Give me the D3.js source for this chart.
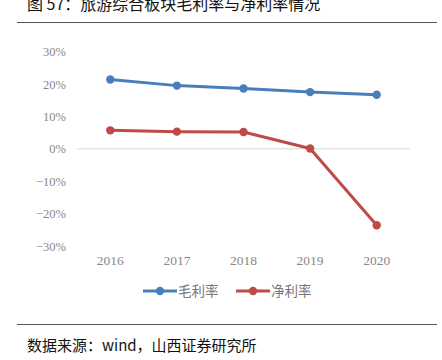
<!DOCTYPE html>
<html><head><meta charset="utf-8">
<script src="https://cdn.jsdelivr.net/npm/d3@7"></script>
<style>body{margin:0;background:#fff}svg{display:block}</style>
</head><body>
<script>
const years = ["2016","2017","2018","2019","2020"];
const grossMargin = [21.4, 19.5, 18.6, 17.5, 16.7];
const netMargin = [5.7, 5.3, 5.2, 0.1, -23.6];
const yTicks = [30, 20, 10, 0, -10, -20, -30];
const seriesNames = ["毛利率", "净利率"];
const colors = ["#4a7ebb", "#be4b48"];

const W = 442, H = 360;
const svg = d3.select("body").append("svg").attr("width", W).attr("height", H);

svg.append("text").attr("x", 27).attr("y", 10)
  .attr("font-family", "Noto Sans CJK SC").attr("font-size", 16).attr("fill", "#111")
  .text("图 57：旅游综合板块毛利率与净利率情况");
svg.append("line").attr("x1", 17).attr("x2", 437).attr("y1", 22.5).attr("y2", 22.5)
  .attr("stroke", "#555").attr("stroke-width", 1);

const x = d3.scaleBand().domain(years).range([77, 410]);
const y = d3.scaleLinear().domain([-30, 30]).range([246, 51.6]);

const axisFont = "Liberation Serif";
const yAxis = svg.append("g").attr("transform", "translate(66,0)")
  .call(d3.axisLeft(y).tickValues(yTicks).tickSize(0).tickPadding(0).tickFormat(d => (d < 0 ? "−" + Math.abs(d) : d) + "%"));
yAxis.select(".domain").remove();
yAxis.selectAll("text").attr("font-family", axisFont).attr("font-size", 12.5).attr("fill", "#888");

svg.append("line").attr("x1", 77).attr("x2", 410).attr("y1", y(0)).attr("y2", y(0))
  .attr("stroke", "#d9d9d9").attr("stroke-width", 1);

const xAxis = svg.append("g").attr("transform", "translate(0,255)")
  .call(d3.axisBottom(x).tickSize(0).tickPadding(0));
xAxis.select(".domain").remove();
xAxis.selectAll("text").attr("font-family", axisFont).attr("font-size", 13.5).attr("fill", "#888").attr("dy", "0.71em");

const series = [grossMargin, netMargin];
const line = d3.line().x((d, i) => x(years[i]) + x.bandwidth() / 2).y(d => y(d));
series.forEach((s, k) => {
  svg.append("path").datum(s).attr("d", line).attr("fill", "none")
    .attr("stroke", colors[k]).attr("stroke-width", 3).attr("stroke-linejoin", "round");
  svg.selectAll(".m" + k).data(s).enter().append("circle")
    .attr("cx", (d, i) => x(years[i]) + x.bandwidth() / 2).attr("cy", d => y(d)).attr("r", 4.2)
    .attr("fill", colors[k]);
});

const legendX = [143, 236];
seriesNames.forEach((n, k) => {
  const g = svg.append("g").attr("transform", `translate(${legendX[k]},291)`);
  g.append("line").attr("x1", 0).attr("x2", 34).attr("stroke", colors[k]).attr("stroke-width", 3);
  g.append("circle").attr("cx", 17).attr("r", 4.2).attr("fill", colors[k]);
  g.append("text").attr("x", 35).attr("y", 0).attr("dy", "0.35em")
    .attr("font-family", "Noto Sans CJK SC").attr("font-size", 13.5).attr("fill", "#777").text(n);
});

svg.append("line").attr("x1", 17).attr("x2", 437).attr("y1", 324.5).attr("y2", 324.5)
  .attr("stroke", "#555").attr("stroke-width", 1);
svg.append("text").attr("x", 27).attr("y", 351)
  .attr("font-family", "Noto Sans CJK SC").attr("font-size", 15).attr("fill", "#111")
  .text("数据来源：wind，山西证券研究所");
</script>
</body></html>
